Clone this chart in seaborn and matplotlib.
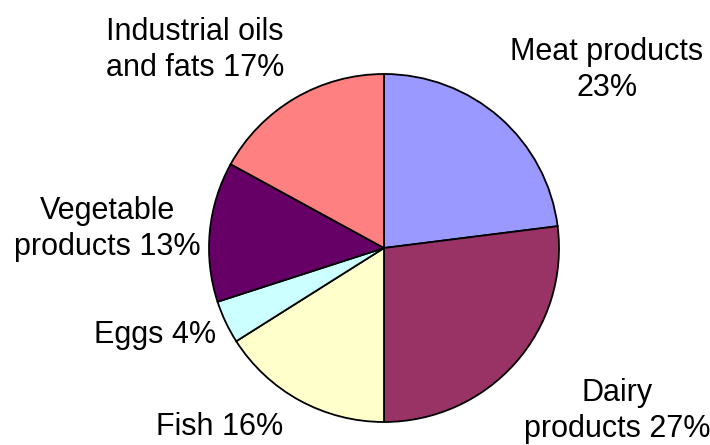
import matplotlib
matplotlib.use("Agg")
import matplotlib.pyplot as plt
import seaborn as sns

categories = ["Meat products", "Dairy products", "Fish", "Eggs",
              "Vegetable products", "Industrial oils and fats"]
shares = [23, 27, 16, 4, 13, 17]
label_texts = ["Meat products\n23%", "Dairy\nproducts 27%", "Fish 16%", "Eggs 4%",
               "Vegetable\nproducts 13%", "Industrial oils\nand fats 17%"]
colors = ["#9999FF", "#993366", "#FFFFCC", "#CCFFFF", "#660066", "#FF8080"]

# label centres in pixel coords (x from left, y from top) - layout only
label_pos = [(607, 70), (617, 411), (220, 427), (155, 335), (107, 229), (195, 50)]

sns.set_theme(style="white")
plt.rcParams["font.family"] = ["Liberation Sans", "DejaVu Sans"]

W, H = 710, 445
fig = plt.figure(figsize=(W / 100, H / 100), dpi=100)
fig.patch.set_facecolor("white")

cx, cy, rx, ry = 384, 248, 175, 174
ax = fig.add_axes([(cx - rx) / W, (H - cy - ry) / H, 2 * rx / W, 2 * ry / H])
ax.pie(shares, colors=colors, startangle=90, counterclock=False, radius=1,
       wedgeprops=dict(edgecolor="black", linewidth=1.3))
ax.set_aspect("auto")
ax.set_xlim(-1, 1)
ax.set_ylim(-1, 1)
ax.axis("off")

for txt, (px, py) in zip(label_texts, label_pos):
    fig.text(px / W, 1 - py / H, txt, ha="center", va="center",
             fontsize=22, color="black", linespacing=1.3)

fig.savefig("out.png", dpi=100, facecolor="white")
